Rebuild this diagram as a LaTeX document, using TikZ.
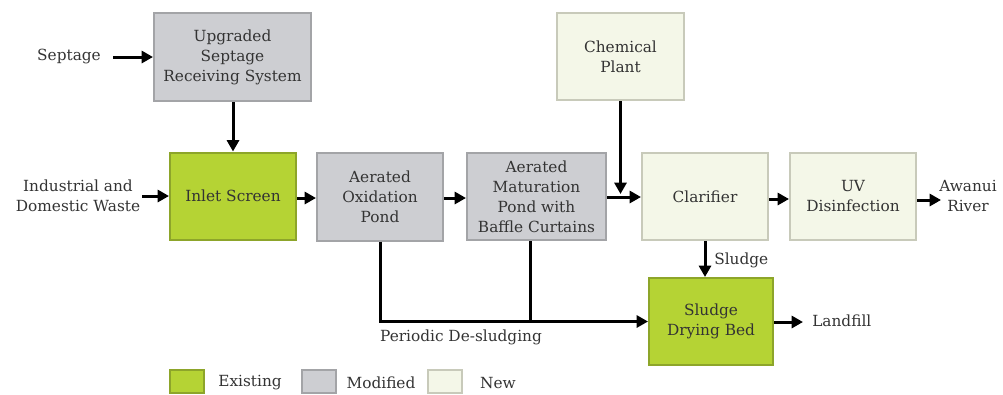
\documentclass[tikz,border=0pt]{standalone}
\usepackage{fontspec}
\setmainfont{DejaVu Serif}
\usetikzlibrary{arrows.meta}
\definecolor{exfill}{HTML}{B5D334}
\definecolor{exdraw}{HTML}{8DA52A}
\definecolor{mofill}{HTML}{CDCED2}
\definecolor{modraw}{HTML}{A3A4A7}
\definecolor{nefill}{HTML}{F4F7E8}
\definecolor{nedraw}{HTML}{C8CABA}
\definecolor{txt}{HTML}{333333}
\newcommand{\pxu}{0.75pt}
\tikzset{
  box/.style={rectangle, line width=1.5pt, align=center, text=txt, inner sep=0pt,
    font=\fontsize{11.5}{15}\selectfont},
  exbox/.style={box, fill=exfill, draw=exdraw},
  mobox/.style={box, fill=mofill, draw=modraw},
  nebox/.style={box, fill=nefill, draw=nedraw},
  lbl/.style={text=txt, align=center, inner sep=0pt, font=\fontsize{11.5}{15}\selectfont},
  flow/.style={line width=2.25pt, -{Triangle[length=8.5pt,width=9pt]}},
  plain/.style={line width=2.25pt}
}
\begin{document}
\begin{tikzpicture}[x=0.75pt,y=-0.75pt]
\useasboundingbox (0,0) rectangle (1003,394);
% boxes
\node[mobox, minimum width=157*\pxu, minimum height=88*\pxu] (ups) at (232.5,57) {Upgraded\\Septage\\Receiving System};
\node[exbox, minimum width=126*\pxu, minimum height=87*\pxu] (inlet) at (233,196) {Inlet Screen};
\node[mobox, minimum width=126*\pxu, minimum height=88*\pxu] (oxid) at (380,196.5) {Aerated\\Oxidation\\Pond};
\node[mobox, minimum width=139*\pxu, minimum height=87*\pxu] (matur) at (536.5,196.5) {Aerated\\Maturation\\Pond with\\Baffle Curtains};
\node[nebox, minimum width=127*\pxu, minimum height=87*\pxu] (chem) at (620.5,56.5) {Chemical\\Plant};
\node[nebox, minimum width=126*\pxu, minimum height=87*\pxu] (clar) at (705,196.5) {Clarifier};
\node[nebox, minimum width=126*\pxu, minimum height=87*\pxu] (uv) at (853,196.5) {UV\\Disinfection};
\node[exbox, minimum width=124*\pxu, minimum height=87*\pxu] (sdb) at (711,321.5) {Sludge\\Drying Bed};
% labels
\node[lbl] (sept) at (69,57) {Septage};
\node[lbl] (ind) at (78,196) {Industrial and\\Domestic Waste};
\node[lbl] (river) at (968,196) {Awanui\\River};
\node[lbl, anchor=west] (land) at (812,321) {Landfill};
\node[lbl, anchor=west] (sludge) at (714,260) {Sludge};
\node[lbl] (desl) at (461,337) {Periodic De-sludging};
% connectors
\coordinate (septA) at (113,57);
\coordinate (indA) at (142,196);
\coordinate (riverA) at (941,200);
\coordinate (landA) at (803,322);
\draw[flow] (septA) -- (ups.west |- septA);
\draw[flow] (ups.south -| inlet.north) -- (inlet.north);
\draw[flow] (indA) -- (inlet.west |- indA);
\draw[flow] (inlet.east |- 0,198) -- (oxid.west |- 0,198);
\draw[flow] (oxid.east |- 0,198) -- (matur.west |- 0,198);
\draw[flow] (matur.east |- 0,197) -- (clar.west |- 0,197);
\draw[flow] (chem.south) -- (chem.south |- 0,194);
\draw[flow] (clar.east |- 0,199) -- (uv.west |- 0,199);
\draw[flow] (uv.east |- riverA) -- (riverA);
\draw[flow] (clar.south) -- (clar.south |- sdb.north);
\draw[flow] (sdb.east |- landA) -- (landA);
\draw[flow] (oxid.south) |- (sdb.west);
\draw[plain] ([xshift=-6.5*\pxu]matur.south) -- ([xshift=-6.5*\pxu]matur.south |- sdb.west);
% legend
\node[exbox, minimum width=34*\pxu, minimum height=23*\pxu] (lgex) at (187,381.5) {};
\node[lbl] (lgext) at (250,383) {Existing};
\node[mobox, minimum width=34*\pxu, minimum height=23*\pxu] (lgmo) at (319,381.5) {};
\node[lbl] (lgmot) at (381,383) {Modified};
\node[nebox, minimum width=34*\pxu, minimum height=23*\pxu] (lgne) at (445,381.5) {};
\node[lbl] (lgnet) at (498,383) {New};
\end{tikzpicture}
\end{document}
